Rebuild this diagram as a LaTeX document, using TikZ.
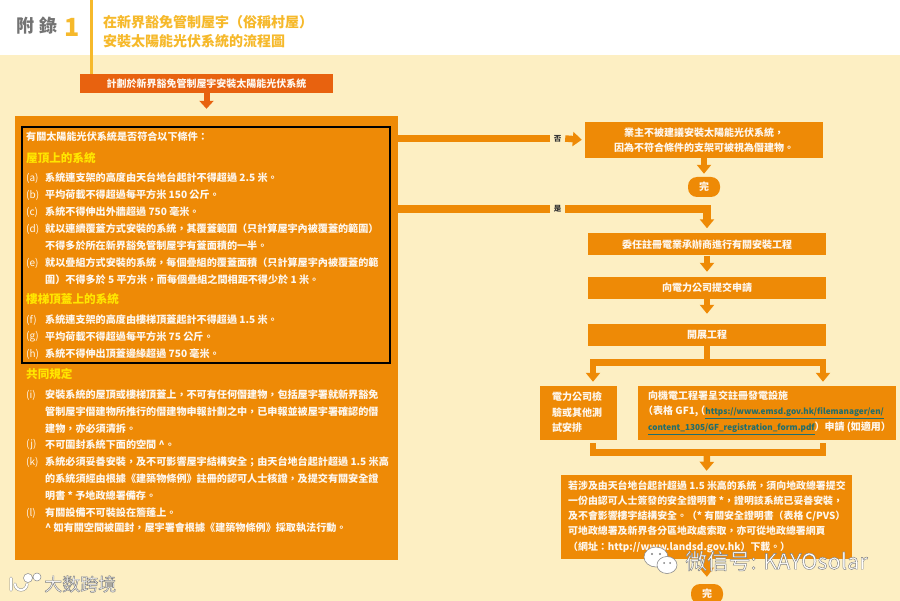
\documentclass[tikz,border=0pt]{standalone}
\usepackage{fontspec}
\setmainfont{Noto Sans CJK TC}
\usetikzlibrary{arrows.meta}
\definecolor{cream}{HTML}{FDEFC3}
\definecolor{orng}{HTML}{EE8A06}
\definecolor{dorng}{HTML}{E8620F}
\definecolor{goldy}{HTML}{F6B92B}
\definecolor{hdr}{HTML}{FFE600}
\definecolor{linkc}{HTML}{1F6E6E}
\colorlet{wtxt}{white!93!orng}
\newcommand{\outl}[1]{\special{pdf:code 2 Tr 0.45 w 0.5 0.5 0.5 RG}#1\special{pdf:code 0 Tr}}
\tikzset{
  box/.style={fill=orng,text=wtxt,inner sep=0pt,align=center,font=\fontsize{10}{15.5}\selectfont\bfseries},
  pill/.style={fill=orng,text=wtxt,rounded corners=9pt,inner sep=0pt,minimum width=32pt,minimum height=20pt,font=\fontsize{10}{12}\selectfont\bfseries},
  lefttxt/.style={anchor=west,inner sep=0pt,text=wtxt,align=left},
  txt/.style={anchor=west,inner sep=0pt,text=wtxt,font=\fontsize{10.1}{12}\selectfont\bfseries},
  lab/.style={anchor=west,inner sep=0pt,text=wtxt,font=\fontsize{10}{12}\selectfont},
  hd/.style={anchor=west,inner sep=0pt,text=hdr,font=\fontsize{11.6}{12}\selectfont\bfseries},
  conn/.style={draw=orng,line width=6.5pt,-{Triangle[length=9pt,width=14pt]}},
  bar/.style={draw=orng,line width=6.5pt},
  tag/.style={inner sep=0pt,minimum width=15pt,text=black!80,font=\fontsize{7.5}{8}\selectfont\bfseries},
  wmark/.style={anchor=west,inner sep=0pt,text=white},
}
\newcommand{\itm}[3]{%
  \node[lab] (a#1) at (26,#1) {#2};
  \node[txt] (b#1) at (45,#1) {#3};}
\newcommand{\cont}[2]{\node[txt] (b#1) at (45,#1) {#2};}
\begin{document}
\begin{tikzpicture}[x=1pt,y=-1pt]
\useasboundingbox (0,0) rectangle (900,601);
\fill[white] (0,0) rectangle (900,601);
\fill[cream] (0,55) rectangle (900,601);
\fill[goldy] (90,0) rectangle (93,74);
\node[inner sep=0pt,anchor=west,text=black!55,font=\fontsize{18}{20}\selectfont\bfseries] (appx) at (16,26) {附\hspace{5pt}錄};
\node[inner sep=0pt,anchor=west,text=goldy,font=\fontsize{25}{27}\selectfont\bfseries] (appn) at (64,27) {1};
\node[inner sep=0pt,anchor=west,text=goldy,font=\fontsize{14}{19}\selectfont\bfseries,align=left] (title) at (103,32) {在新界豁免管制屋宇（俗稱村屋）\\安裝太陽能光伏系統的流程圖};
% top box and main panel
\node[fill=dorng,text=wtxt,inner sep=0pt,minimum width=253pt,minimum height=19pt,font=\fontsize{10}{12}\selectfont\bfseries] (top) at (206.5,83.5) {計劃於新界豁免管制屋宇安裝太陽能光伏系統};
\node[fill=orng,inner sep=0pt,minimum width=383pt,minimum height=444pt] (main) at (206.5,338) {};
\node[draw=black,line width=1.5pt,inner sep=0pt,minimum width=368pt,minimum height=236pt] (crit) at (206,245) {};
\draw[draw=dorng,line width=6pt,-{Triangle[length=8pt,width=14pt]},shorten >=7pt] (top.south) -- (main.north);
% panel text
\node[txt] (q) at (26,137) {有關太陽能光伏系統是否符合以下條件：};
\node[hd] (h1) at (26,158) {屋頂上的系統};
\itm{178}{(a)}{系統連支架的高度由天台地台起計不得超過 2.5 米。}
\itm{195}{(b)}{平均荷載不得超過每平方米 150 公斤。}
\itm{212}{(c)}{系統不得伸出外牆超過 750 毫米。}
\itm{229}{(d)}{就以連續覆蓋方式安裝的系統，其覆蓋範圍（只計算屋宇內被覆蓋的範圍）}
\cont{246}{不得多於所在新界豁免管制屋宇有蓋面積的一半。}
\itm{263}{(e)}{就以疊組方式安裝的系統，每個疊組的覆蓋面積（只計算屋宇內被覆蓋的範}
\cont{280}{圍）不得多於 5 平方米，而每個疊組之間相距不得少於 1 米。}
\node[hd] (h2) at (26,299) {樓梯頂蓋上的系統};
\itm{320}{(f)}{系統連支架的高度由樓梯頂蓋起計不得超過 1.5 米。}
\itm{337}{(g)}{平均荷載不得超過每平方米 75 公斤。}
\itm{354}{(h)}{系統不得伸出頂蓋邊緣超過 750 毫米。}
\node[hd] (h3) at (26,374) {共同規定};
\itm{395}{(i)}{安裝系統的屋頂或樓梯頂蓋上，不可有任何僭建物，包括屋宇署就新界豁免}
\cont{412}{管制屋宇僭建物所推行的僭建物申報計劃之中，已申報並被屋宇署確認的僭}
\cont{429}{建物，亦必須清拆。}
\itm{445}{(j)}{不可圍封系統下面的空間 \^{}。}
\itm{462}{(k)}{系統必須妥善安裝，及不可影響屋宇結構安全；由天台地台起計超過 1.5 米高}
\cont{479}{的系統須經由根據《建築物條例》註冊的認可人士核證，及提交有關安全證}
\cont{496}{明書 * 予地政總署備存。}
\itm{513}{(l)}{有關設備不可裝設在簷蓬上。}
\cont{528}{\^{} 如有關空間被圍封，屋宇署會根據《建築物條例》採取執法行動。}
% right column
\node[box,minimum width=238pt,minimum height=36pt] (r1) at (704,140) {業主不被建議安裝太陽能光伏系統，\\因為不符合條件的支架可被視為僭建物。};
\node[pill] (end1) at (704,187) {完};
\node[box,minimum width=238pt,minimum height=22pt] (r2) at (707,244.5) {委任註冊電業承辦商進行有關安裝工程};
\node[box,minimum width=238pt,minimum height=22pt] (r3) at (707,288) {向電力公司提交申請};
\node[box,minimum width=238pt,minimum height=22pt] (r4) at (707,335) {開展工程};
\node[box,minimum width=77pt,minimum height=54pt] (r5) at (578.5,413) {};
\node[lefttxt,font=\fontsize{10}{15.5}\selectfont\bfseries] (r5t) at (552,412.5) {電力公司檢\\驗或其他測\\試安排};
\node[box,minimum width=258pt,minimum height=54pt] (r6) at (767,413) {};
\node[lefttxt,font=\fontsize{10}{15.5}\selectfont\bfseries] (r6t) at (648,412.5) {向機電工程署呈交註冊發電設施\\\hspace*{-5pt}（表格 GF1,\hspace{-3pt}（\textcolor{linkc}{\fontsize{8.2}{15.5}\selectfont\underline{https://www.emsd.gov.hk/filemanager/en/}}\\\textcolor{linkc}{\fontsize{8.2}{15.5}\selectfont\underline{content\_1305/GF\_registration\_form.pdf}}）申請 (如適用）};
\node[box,minimum width=291pt,minimum height=84pt] (r7) at (706.5,517) {};
\node[lefttxt,font=\fontsize{9.9}{15.2}\selectfont\bfseries] (r7t) at (568,516.5) {若涉及由天台地台起計超過 1.5 米高的系統，須向地政總署提交\\一份由認可人士簽發的安全證明書 *，證明該系統已妥善安裝，\\及不會影響樓宇結構安全。（* 有關安全證明書（表格 C/PVS）\\可地政總署及新界各分區地政處索取，亦可從地政總署網頁\\（網址：http://www.landsd.gov.hk）下載。）};
\node[pill] (end2) at (707,594) {完};
% branch labels
\node[tag] (no) at (557.5,138.5) {否};
\node[tag] (yes) at (557.5,209) {是};
\coordinate (ym) at (707,209);
\coordinate (jt) at (707,362.5);
\coordinate (jl) at (593,362.5);
\coordinate (jr) at (823,362.5);
\coordinate (bl) at (593,452.5);
\coordinate (br) at (823,452.5);
\coordinate (bm) at (707,452.5);
\coordinate (bt) at (0,446);
% connectors
\draw[bar] (main.east |- no) -- (no.west);
\draw[conn,shorten >=3pt] (no.east) -- (r1.west);
\draw[bar,line width=7.5pt] (main.east |- yes) -- (yes.west);
\draw[conn,line width=7.5pt,shorten >=5pt] (yes.east) -- (ym) -- (r2.north);
\draw[conn,shorten >=3pt] (r1.south) -- (end1.north);
\draw[conn,shorten >=5pt] (r2.south) -- (r3.north);
\draw[conn,shorten >=10pt] (r3.south) -- (r4.north);
\draw[bar] (r4.south) -- (jt);
\draw[bar,line cap=rect] (jl) -- (jr);
\draw[conn,shorten >=4pt] (jl) -- (jl |- r5.north);
\draw[conn,shorten >=4pt] (jr) -- (jr |- r6.north);
\draw[bar,line cap=rect] (bl |- bt) -- (bl) -- (br) -- (br |- bt);
\draw[conn,shorten >=4pt] (bm) -- (r7.north);
\draw[conn,shorten >=7pt] (r7.south) -- (end2.north);
% watermarks
\fill[white,draw=black!45,line width=.6pt] (656,557) ellipse (12pt and 10pt);
\fill[white,draw=black!45,line width=.6pt] (667,565) ellipse (10pt and 8.5pt);
\fill[black!50] (652,554) circle (1.2pt) (660,554) circle (1.2pt) (664,563) circle (1pt) (670,563) circle (1pt);
\node[wmark,font=\fontsize{21.8}{23}\selectfont] (wm) at (685,561) {\outl{微信号: KAYOsolar}};
\node[wmark,font=\fontsize{18}{20}\selectfont] (wm2) at (44,584) {\outl{大数跨境}};
\draw[black!45,line width=3pt,line cap=round] (11,578) -- (11,590) (15,584) arc (180:360:6pt);
\draw[white,line width=2pt,line cap=round] (11,578) -- (11,590) (15,584) arc (180:360:6pt);
\draw[black!45,line width=.5pt,fill=white] (28,578) circle (4.5pt) (37,577) circle (4pt);
\end{tikzpicture}
\end{document}
